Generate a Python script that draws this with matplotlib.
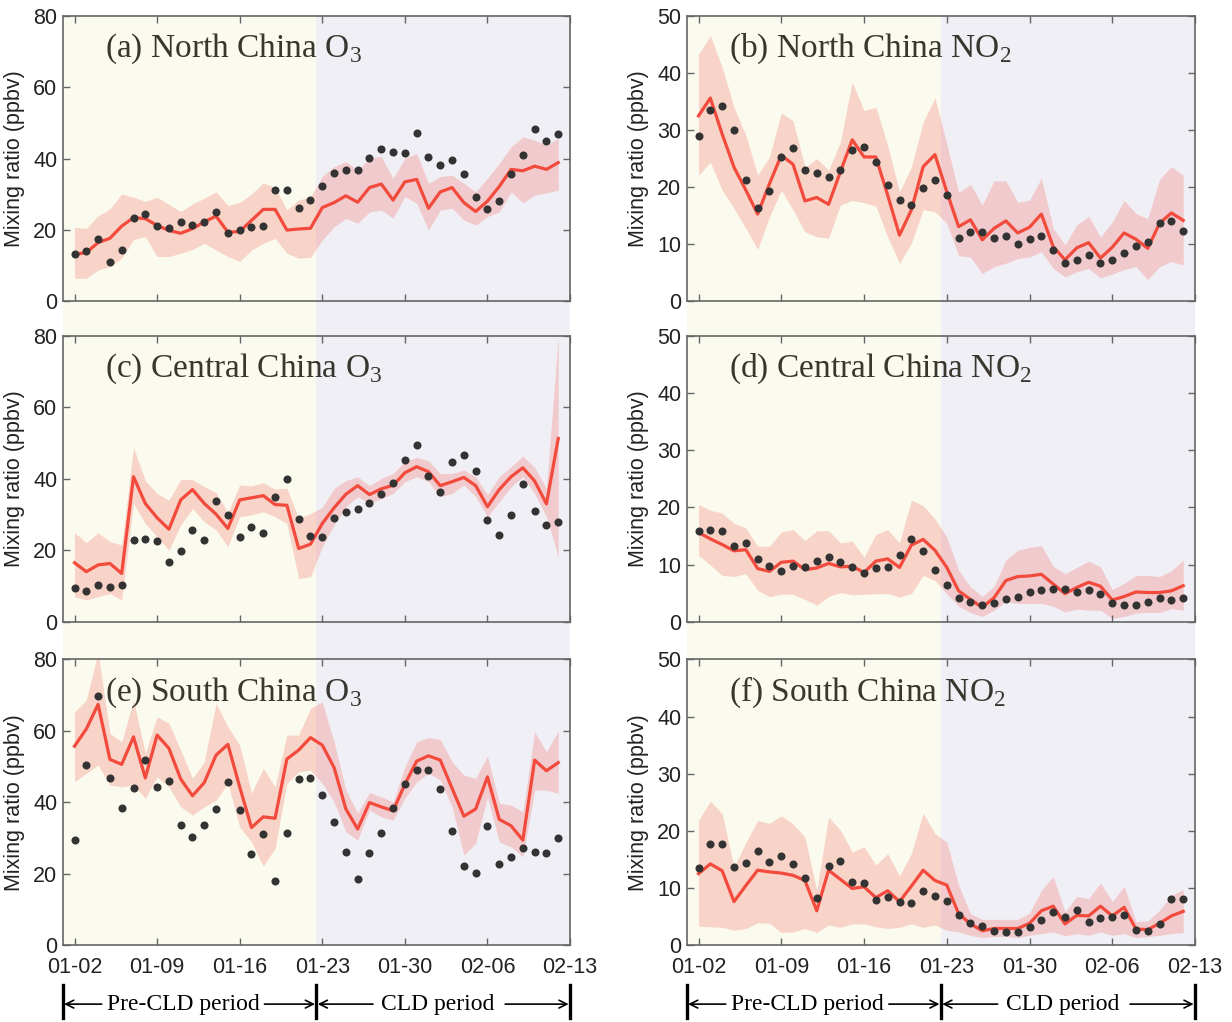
# Imports
from matplotlib import pyplot as plt
from matplotlib import transforms
from matplotlib.lines import Line2D


# Time axis (days after 01-02)
day_index: list[int] = list(range(42))
tick_days: list[int] = [0, 7, 14, 21, 28, 35, 42]
tick_labels: list[str] = ["01-02", "01-09", "01-16", "01-23", "01-30", "02-06", "02-13"]
cld_start: float = 20.5

# (a) North China O3
north_o3_obs = [13.2, 14.1, 17.4, 11.0, 14.5, 23.4, 24.6, 21.1, 20.5, 22.4, 21.4, 22.4, 25.2, 19.2, 20.1, 20.8, 21.2, 31.1, 31.1, 26.2, 28.4,
	32.4, 36.0, 36.8, 36.8, 40.3, 42.7, 41.8, 41.5, 47.2, 40.5, 38.3, 39.6, 35.6, 29.4, 25.8, 28.2, 35.7, 40.9, 48.2, 44.9, 47.0]
north_o3_mod = [13.2, 13.7, 16.5, 17.7, 21.1, 23.5, 23.2, 21.3, 19.9, 19.1, 20.4, 22.3, 23.9, 19.4, 19.6, 22.7, 25.8, 25.8, 20.0, 20.3, 20.5,
	26.3, 27.7, 29.6, 27.8, 31.9, 32.9, 28.4, 33.5, 34.2, 26.1, 30.7, 31.9, 27.7, 25.2, 28.1, 32.2, 37.0, 36.6, 37.9, 37.0, 38.9]
north_o3_hi = [20.7, 20.5, 24.0, 25.9, 30.1, 29.2, 28.0, 29.2, 27.2, 25.2, 27.3, 28.9, 30.7, 26.9, 27.7, 30.1, 33.2, 31.9, 25.6, 28.4, 29.3,
	35.0, 37.8, 39.2, 36.8, 40.1, 40.6, 34.5, 40.1, 41.5, 33.1, 35.0, 35.4, 33.1, 30.7, 34.5, 38.7, 43.3, 46.1, 45.2, 43.8, 45.7]
north_o3_lo = [6.5, 6.5, 8.8, 9.8, 12.1, 17.4, 18.2, 12.6, 12.6, 13.5, 14.6, 16.3, 14.4, 12.6, 11.2, 14.4, 16.3, 17.7, 13.5, 12.1, 12.4,
	17.2, 20.9, 23.3, 21.9, 25.1, 25.6, 23.3, 29.4, 27.5, 20.0, 25.6, 26.1, 22.8, 21.4, 23.8, 25.1, 30.7, 27.6, 29.8, 30.4, 31.2]

# (b) North China NO2
north_no2_obs = [28.9, 33.5, 34.2, 30.0, 21.2, 16.4, 19.3, 25.3, 26.9, 23.1, 22.5, 21.8, 23.1, 26.6, 27.0, 24.5, 20.4, 17.8, 16.9, 19.9, 21.2,
	18.7, 11.2, 12.2, 12.2, 11.2, 11.4, 10.1, 11.0, 11.4, 9.0, 6.8, 7.3, 8.1, 6.7, 7.3, 8.5, 9.8, 10.5, 13.7, 14.1, 12.4]
north_no2_mod = [32.5, 35.6, 29.3, 23.5, 19.5, 15.3, 20.6, 25.6, 24.0, 17.6, 18.2, 17.0, 22.7, 28.3, 25.3, 25.3, 18.6, 11.6, 16.0, 23.6, 25.7,
	19.2, 13.1, 14.3, 10.8, 12.8, 14.1, 12.0, 13.0, 15.3, 9.6, 7.3, 9.4, 10.3, 7.6, 9.5, 12.0, 10.9, 9.3, 13.7, 15.5, 14.2]
north_no2_hi = [43.3, 46.5, 41.0, 34.0, 29.1, 22.1, 25.3, 33.0, 31.6, 23.5, 25.0, 23.0, 27.9, 38.4, 33.4, 34.0, 27.3, 19.2, 23.5, 31.4, 35.6,
	27.6, 19.1, 20.5, 16.9, 21.1, 21.1, 17.4, 17.7, 21.6, 12.8, 9.9, 13.4, 14.9, 11.3, 13.9, 17.7, 15.4, 14.5, 21.4, 23.6, 22.1]
north_no2_lo = [22.1, 24.4, 19.5, 16.3, 12.8, 9.1, 14.8, 19.5, 16.0, 12.2, 11.3, 11.1, 16.9, 17.7, 17.3, 16.7, 11.3, 6.7, 10.2, 16.1, 15.7,
	13.7, 8.0, 7.8, 4.9, 6.1, 6.7, 7.5, 7.8, 8.7, 5.8, 4.3, 5.2, 5.8, 4.1, 4.8, 5.6, 6.1, 3.8, 6.1, 7.0, 6.4]

# (c) Central China O3
central_o3_obs = [9.4, 8.7, 10.2, 9.7, 10.3, 23.0, 23.2, 22.7, 16.8, 19.8, 25.7, 22.9, 33.7, 29.8, 23.6, 26.5, 24.9, 35.0, 40.0, 28.7, 24.1,
	23.6, 28.9, 30.6, 31.6, 33.1, 35.7, 38.9, 45.4, 49.5, 40.8, 36.4, 44.6, 46.7, 42.1, 28.6, 24.3, 30.0, 38.6, 30.9, 27.2, 27.8]
central_o3_mod = [16.5, 14.0, 15.9, 16.3, 13.5, 40.6, 33.1, 29.1, 25.9, 34.1, 37.0, 33.1, 30.1, 26.1, 34.1, 34.7, 35.3, 32.8, 32.6, 20.5, 21.7,
	27.5, 31.9, 35.7, 38.1, 35.6, 37.2, 38.2, 41.7, 43.4, 42.0, 38.1, 39.2, 40.4, 38.1, 32.2, 37.0, 40.6, 43.1, 39.4, 33.0, 51.3]
central_o3_hi = [25.0, 22.1, 24.9, 22.4, 21.5, 48.8, 39.5, 35.9, 34.0, 39.8, 39.8, 37.8, 36.1, 30.5, 38.3, 38.0, 38.9, 37.1, 37.4, 28.9, 30.3,
	32.0, 37.3, 39.5, 40.6, 38.1, 40.1, 41.5, 44.8, 46.0, 45.1, 41.5, 41.5, 42.5, 40.6, 35.5, 40.6, 43.4, 46.4, 43.2, 37.3, 79.8]
central_o3_lo = [7.0, 6.1, 7.0, 7.9, 6.1, 33.1, 27.5, 23.8, 20.0, 27.1, 31.7, 28.0, 25.7, 21.0, 29.4, 29.9, 30.8, 29.4, 27.5, 12.1, 12.6,
	21.0, 27.1, 32.2, 35.0, 33.1, 34.5, 35.9, 39.2, 40.6, 39.2, 35.0, 35.9, 38.3, 35.0, 29.4, 33.6, 37.8, 40.6, 35.9, 29.4, 18.2]

# (d) Central China NO2
central_no2_obs = [15.8, 16.0, 15.8, 13.2, 13.8, 10.9, 9.8, 8.9, 9.8, 9.6, 10.6, 11.3, 10.4, 9.6, 8.5, 9.4, 9.5, 11.7, 14.4, 12.3, 9.1,
	6.5, 4.2, 3.4, 2.9, 3.3, 4.0, 4.3, 5.2, 5.5, 5.8, 5.8, 5.2, 5.5, 4.8, 3.3, 2.9, 2.9, 3.4, 4.2, 3.8, 4.2]
central_no2_mod = [15.6, 14.5, 13.5, 12.4, 12.6, 9.3, 8.8, 10.4, 10.6, 9.1, 9.4, 10.2, 9.6, 9.7, 8.6, 10.6, 11.0, 9.5, 13.4, 14.4, 12.5,
	9.5, 5.4, 3.9, 2.5, 4.2, 7.2, 7.9, 8.0, 8.3, 6.6, 4.9, 6.0, 6.9, 6.2, 3.8, 4.4, 5.2, 5.1, 5.1, 5.4, 6.3]
central_no2_hi = [20.5, 19.5, 19.0, 17.2, 16.4, 13.2, 13.2, 15.7, 16.1, 14.2, 15.9, 15.9, 13.8, 14.1, 11.3, 15.3, 16.1, 13.8, 21.3, 20.3, 18.0,
	14.8, 9.0, 6.1, 4.4, 6.2, 10.8, 12.5, 13.0, 13.3, 9.7, 8.4, 9.5, 10.6, 9.6, 5.6, 6.7, 8.1, 8.1, 7.9, 8.9, 10.8]
central_no2_lo = [11.6, 9.9, 8.1, 7.9, 8.4, 5.5, 4.4, 4.8, 4.8, 3.9, 2.9, 4.4, 5.1, 4.7, 4.8, 4.9, 4.9, 4.3, 4.9, 8.1, 7.2,
	4.9, 2.7, 1.6, 0.9, 2.0, 3.5, 3.2, 3.2, 3.2, 2.7, 1.7, 2.2, 2.0, 2.0, 0.6, 0.9, 1.5, 1.6, 1.6, 2.3, 2.0]

# (e) South China O3
south_o3_obs = [29.5, 50.3, 69.8, 46.7, 38.4, 44.1, 51.9, 44.3, 45.9, 33.6, 30.2, 33.5, 38.1, 45.7, 37.7, 25.5, 31.2, 18.0, 31.5, 46.4, 46.9,
	42.1, 34.6, 26.0, 18.5, 25.8, 31.5, 38.4, 45.1, 48.9, 48.9, 43.6, 31.8, 22.1, 20.3, 33.3, 22.8, 24.7, 27.3, 26.1, 25.9, 30.1]
south_o3_mod = [55.7, 60.5, 67.4, 52.0, 50.6, 58.3, 46.8, 58.8, 55.1, 46.5, 41.8, 45.5, 53.2, 56.2, 44.3, 32.9, 35.9, 35.5, 52.1, 54.6, 58.1,
	56.0, 49.7, 38.1, 32.5, 39.9, 38.7, 37.6, 45.0, 51.5, 53.0, 51.8, 43.9, 36.1, 38.1, 47.1, 35.2, 33.4, 29.4, 51.8, 48.8, 51.1]
south_o3_hi = [65.3, 68.6, 82.0, 59.3, 56.9, 68.6, 53.7, 63.9, 62.1, 54.6, 46.7, 51.3, 67.7, 61.1, 56.0, 42.5, 49.5, 44.3, 58.8, 58.8, 66.3,
	68.1, 56.9, 43.4, 36.9, 42.7, 41.5, 40.1, 49.9, 56.9, 58.1, 57.6, 51.3, 47.6, 46.7, 52.9, 39.7, 39.2, 37.3, 59.7, 54.1, 60.0]
south_o3_lo = [45.7, 48.1, 50.4, 44.8, 44.3, 44.8, 41.1, 47.1, 44.3, 38.7, 36.4, 38.7, 40.6, 45.3, 33.1, 28.9, 22.1, 27.1, 45.3, 48.5, 49.0,
	45.3, 40.1, 31.7, 29.4, 37.8, 35.9, 35.0, 41.1, 45.7, 48.1, 46.2, 38.7, 25.2, 28.5, 41.5, 28.9, 27.5, 24.7, 43.4, 43.4, 42.5]

# (f) South China NO2
south_no2_obs = [13.5, 17.6, 17.7, 13.6, 14.4, 16.5, 14.5, 15.6, 14.2, 11.7, 8.3, 13.8, 14.7, 11.1, 10.8, 7.8, 8.4, 7.6, 7.4, 9.5, 8.5,
	7.7, 5.2, 3.9, 3.3, 2.4, 2.3, 2.3, 3.1, 4.4, 5.8, 4.9, 6.1, 4.0, 4.7, 4.9, 5.2, 2.6, 2.4, 3.7, 8.0, 8.1]
south_no2_mod = [12.5, 14.2, 13.0, 7.6, 10.4, 13.1, 12.8, 12.6, 12.2, 11.3, 6.0, 13.1, 11.5, 9.9, 10.2, 8.3, 9.5, 7.6, 10.3, 13.1, 11.3,
	10.5, 5.5, 3.7, 2.5, 2.9, 2.9, 2.9, 3.8, 6.0, 6.8, 3.7, 5.2, 5.1, 6.8, 5.1, 6.6, 2.8, 2.7, 3.8, 5.1, 5.9]
south_no2_hi = [21.8, 25.2, 23.0, 13.7, 17.9, 21.8, 21.3, 22.6, 21.2, 18.9, 9.6, 22.4, 20.1, 16.3, 17.2, 14.0, 16.0, 12.1, 16.0, 23.1, 19.5,
	18.0, 10.5, 5.5, 4.5, 4.5, 4.5, 4.5, 5.6, 9.6, 12.0, 5.8, 8.5, 8.1, 10.9, 7.6, 10.3, 4.1, 4.2, 6.1, 8.7, 9.7]
south_no2_lo = [3.3, 3.2, 3.1, 2.6, 2.9, 3.9, 3.8, 2.2, 2.3, 2.9, 2.2, 3.5, 3.1, 3.7, 3.7, 3.2, 2.9, 3.1, 3.7, 3.1, 3.5,
	2.6, 2.3, 1.7, 1.3, 1.5, 1.5, 1.3, 1.7, 2.0, 2.3, 1.6, 2.0, 1.7, 2.3, 1.7, 2.0, 1.3, 1.5, 1.7, 2.0, 2.2]


# Style
PRE_COLOR: str = "#fafaef"
CLD_COLOR: str = "#f0eff5"
LINE_COLOR: str = "#f24a3c"
DOT_COLOR: str = "#333333"
TITLE_COLOR: str = "#38362e"
SPINE_COLOR: str = "#666666"
plt.rcParams["font.family"] = ["Liberation Sans", "DejaVu Sans"]
plt.rcParams["mathtext.fontset"] = "custom"
plt.rcParams["mathtext.rm"] = "Liberation Serif"


# Draw one panel
def draw_panel(ax, title: str, obs: list, mod: list, hi: list, lo: list, ymax: int, ystep: int, show_x: bool) -> None:
	ax.set_facecolor("none")
	ax.fill_between(day_index, lo, hi, color = LINE_COLOR, alpha = 0.22, lw = 0, zorder = 1)
	ax.plot(day_index, mod, color = LINE_COLOR, lw = 2.3, zorder = 2)
	ax.plot(day_index, obs, "o", color = DOT_COLOR, ms = 5.8, mec = "none", zorder = 3)
	ax.set_xlim(-1, 42)
	ax.set_ylim(0, ymax)
	ax.set_xticks(tick_days)
	ax.set_xticklabels(tick_labels if show_x else [])
	ax.set_yticks(range(0, ymax + 1, ystep))
	ax.tick_params(direction = "in", length = 5, width = 1, color = SPINE_COLOR, top = True, right = True,
		labelsize = 15.5, labelcolor = "#222222", pad = 4)
	ax.tick_params(axis = "x", pad = 8.5)
	for spine in ax.spines.values():
		spine.set_color(SPINE_COLOR)
		spine.set_linewidth(1.2)
	ax.set_ylabel("Mixing ratio (ppbv)", fontsize = 15.5, color = "#222222")
	ax.yaxis.set_label_coords(-0.075, 0.5)
	ax.text(0.084, 0.856, title, transform = ax.transAxes, family = "Liberation Serif", fontsize = 24,
		color = TITLE_COLOR, va = "baseline", zorder = 4)


# Figure layout
fig = plt.figure(figsize = (12.32, 10.22), dpi = 100)
col_left: list[float] = [0.0509, 0.5574]
col_width: list[float] = [0.4118, 0.4126]
row_bottom: list[float] = [0.705, 0.3917, 0.0753]
row_height: float = 0.2795

# Background shading for both periods, spanning the whole column
for c in range(2):
	bg = fig.add_axes([col_left[c], row_bottom[2], col_width[c], row_bottom[0] + row_height - row_bottom[2]], zorder = 0)
	bg.set_xlim(-1, 42)
	bg.axvspan(-1, cld_start, color = PRE_COLOR, lw = 0)
	bg.axvspan(cld_start, 42, color = CLD_COLOR, lw = 0)
	bg.axis("off")

panels = [
	(r"(a) North China O$_\mathregular{3}$", north_o3_obs, north_o3_mod, north_o3_hi, north_o3_lo, 80, 20),
	(r"(b) North China NO$_\mathregular{2}$", north_no2_obs, north_no2_mod, north_no2_hi, north_no2_lo, 50, 10),
	(r"(c) Central China O$_\mathregular{3}$", central_o3_obs, central_o3_mod, central_o3_hi, central_o3_lo, 80, 20),
	(r"(d) Central China NO$_\mathregular{2}$", central_no2_obs, central_no2_mod, central_no2_hi, central_no2_lo, 50, 10),
	(r"(e) South China O$_\mathregular{3}$", south_o3_obs, south_o3_mod, south_o3_hi, south_o3_lo, 80, 20),
	(r"(f) South China NO$_\mathregular{2}$", south_no2_obs, south_no2_mod, south_no2_hi, south_no2_lo, 50, 10),
]
bottom_axes = []
for i, (title, obs, mod, hi, lo, ymax, ystep) in enumerate(panels):
	r, c = i // 2, i % 2
	ax = fig.add_axes([col_left[c], row_bottom[r], col_width[c], row_height], zorder = 1)
	draw_panel(ax, title, obs, mod, hi, lo, ymax, ystep, r == 2)
	if r == 2:
		bottom_axes.append(ax)


# Period annotations below the bottom panels
for ax in bottom_axes:
	trans = transforms.blended_transform_factory(ax.transData, fig.transFigure)
	for x in [-1, cld_start, 42]:
		fig.add_artist(Line2D([x, x], [0.004, 0.036], transform = trans, color = "black", lw = 2.4))
	text_y: float = 0.0175
	ax.text(9.2, text_y, "Pre-CLD period", transform = trans, ha = "center", va = "center",
		family = "Liberation Serif", fontsize = 17, clip_on = False)
	ax.text(30.8, text_y, "CLD period", transform = trans, ha = "center", va = "center",
		family = "Liberation Serif", fontsize = 17, clip_on = False)
	arrows = [(2.3, -1), (16.1, cld_start), (25.3, cld_start), (36.5, 42)]
	for tail, head in arrows:
		ax.annotate("", xy = (head, text_y), xytext = (tail, text_y), xycoords = trans, textcoords = trans,
			arrowprops = dict(arrowstyle = "->", lw = 1.2, color = "black", shrinkA = 0, shrinkB = 1,
			mutation_scale = 14), annotation_clip = False)

fig.savefig("out.png", dpi = 100)
